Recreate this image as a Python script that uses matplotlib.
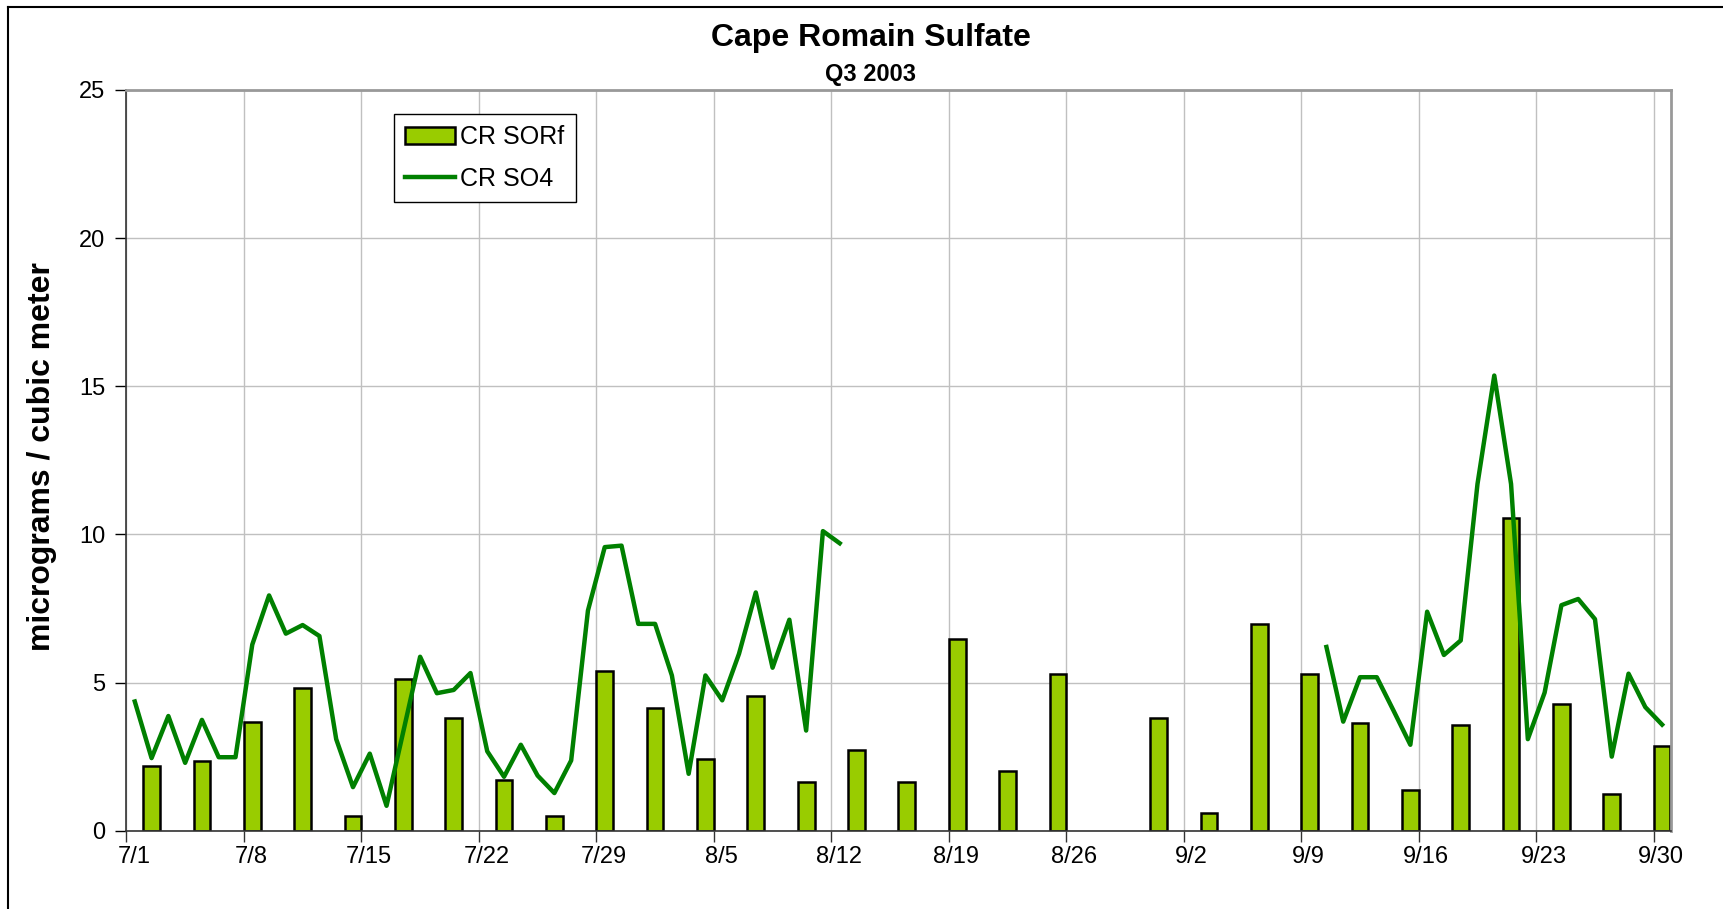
import matplotlib
matplotlib.use("Agg")
import matplotlib.pyplot as plt
from matplotlib.lines import Line2D
import numpy as np
import pandas as pd

# data
bar_dates = ["7/2", "7/5", "7/8", "7/11", "7/14", "7/17", "7/20", "7/23", "7/26", "7/29",
             "8/1", "8/4", "8/7", "8/10", "8/13", "8/16", "8/19", "8/22", "8/25", "8/31",
             "9/3", "9/6", "9/9", "9/12", "9/15", "9/18", "9/21", "9/24", "9/27", "9/30"]
sorf = [2.19, 2.35, 3.68, 4.83, 0.51, 5.11, 3.81, 1.72, 0.51, 5.38,
        4.15, 2.41, 4.56, 1.66, 2.74, 1.66, 6.46, 2.00, 5.30, 3.81,
        0.59, 6.98, 5.30, 3.62, 1.39, 3.56, 10.56, 4.28, 1.25, 2.86]

# daily SO4, two runs with a gap in between
so4_a_start = "7/1"
so4_a = [4.36, 2.45, 3.87, 2.29, 3.74, 2.48, 2.48, 6.28, 7.94, 6.65,
         6.94, 6.57, 3.09, 1.47, 2.60, 0.84, 3.35, 5.87, 4.64, 4.75,
         5.32, 2.68, 1.82, 2.90, 1.86, 1.27, 2.37, 7.43, 9.57, 9.62,
         6.98, 6.98, 5.24, 1.92, 5.24, 4.40, 5.97, 8.04, 5.50, 7.12,
         3.38, 10.11, 9.70]
so4_b_start = "9/10"
so4_b = [6.20, 3.68, 5.18, 5.18, 4.05, 2.90, 7.39, 5.93, 6.42, 11.70,
         15.36, 11.70, 3.09, 4.66, 7.61, 7.82, 7.14, 2.50, 5.30, 4.17, 3.58]

week_labels = ["7/1", "7/8", "7/15", "7/22", "7/29", "8/5", "8/12", "8/19",
               "8/26", "9/2", "9/9", "9/16", "9/23", "9/30"]

start = pd.Timestamp("2003-07-01")


def day_of(s):
    return (pd.Timestamp("2003/" + s) - start).days


bar_x = np.array([day_of(d) for d in bar_dates]) + 0.5
x_a = day_of(so4_a_start) + np.arange(len(so4_a)) + 0.5
x_b = day_of(so4_b_start) + np.arange(len(so4_b)) + 0.5
week_x = np.array([day_of(d) for d in week_labels])

plt.rcParams["font.family"] = ["Liberation Sans", "DejaVu Sans"]
W, H = 1724, 909
fig = plt.figure(figsize=(W / 100, H / 100), dpi=100)

ax = fig.add_axes([126.4 / W, 1 - 830.7 / H, (1670.5 - 126.4) / W, (830.7 - 89.9) / H])

bars = ax.bar(bar_x, sorf, width=1.0, color="#99cc00", edgecolor="black", linewidth=1.8,
              label="CR SORf", zorder=2)
line, = ax.plot(x_a, so4_a, color="#008000", lw=3.2, label="CR SO4", zorder=3,
                solid_joinstyle="round")
ax.plot(x_b, so4_b, color="#008000", lw=3.2, zorder=3, solid_joinstyle="round")

ax.set_xlim(0, 92)
ax.set_ylim(0, 25)
ax.set_yticks(np.arange(0, 26, 5))

# ticks on week boundaries, labels centred on the day
ax.set_xticks(week_x)
ax.set_xticklabels([])
ax.set_xticks(week_x + 0.45, week_labels, minor=True)
ax.tick_params(axis="x", which="major", direction="out", length=8, width=1, color="#333333")
ax.tick_params(axis="x", which="minor", length=0, pad=11, labelsize=17)
ax.tick_params(axis="y", direction="out", length=8, width=1, pad=7, labelsize=17)

ax.grid(True, which="major", color="#c0c0c0", lw=1, zorder=0)
ax.set_axisbelow(True)
for side in ["top", "right"]:
    ax.spines[side].set_color("#999999")
    ax.spines[side].set_linewidth(2)
for side in ["left", "bottom"]:
    ax.spines[side].set_color("#333333")
    ax.spines[side].set_linewidth(1.2)

fig.text(871 / W, 1 - 46 / H, "Cape Romain Sulfate", ha="center", va="baseline",
         fontsize=23, fontweight="bold")
fig.text(871 / W, 1 - 81 / H, "Q3 2003", ha="center", va="baseline",
         fontsize=17, fontweight="bold")
fig.text(42 / W, 1 - 457 / H, "micrograms / cubic meter", rotation=90, ha="center",
         va="center", fontsize=23, fontweight="bold")

leg = ax.legend([bars, line], ["CR SORf", "CR SO4"], loc="upper left",
                bbox_to_anchor=(394 / W, 1 - 114 / H),
                bbox_transform=fig.transFigure, borderaxespad=0, fancybox=False,
                edgecolor="black", framealpha=1, fontsize=18, handlelength=2.0,
                handletextpad=0.2, borderpad=0.45, labelspacing=0.7)
leg.get_frame().set_linewidth(1)

# outer chart border (top and left visible in the reference)
fig.add_artist(Line2D([8 / W, 1], [1 - 7 / H, 1 - 7 / H], transform=fig.transFigure,
                      color="black", lw=1.5))
fig.add_artist(Line2D([8 / W, 8 / W], [0, 1 - 7 / H], transform=fig.transFigure,
                      color="black", lw=1.5))

fig.savefig("out.png", dpi=100)
